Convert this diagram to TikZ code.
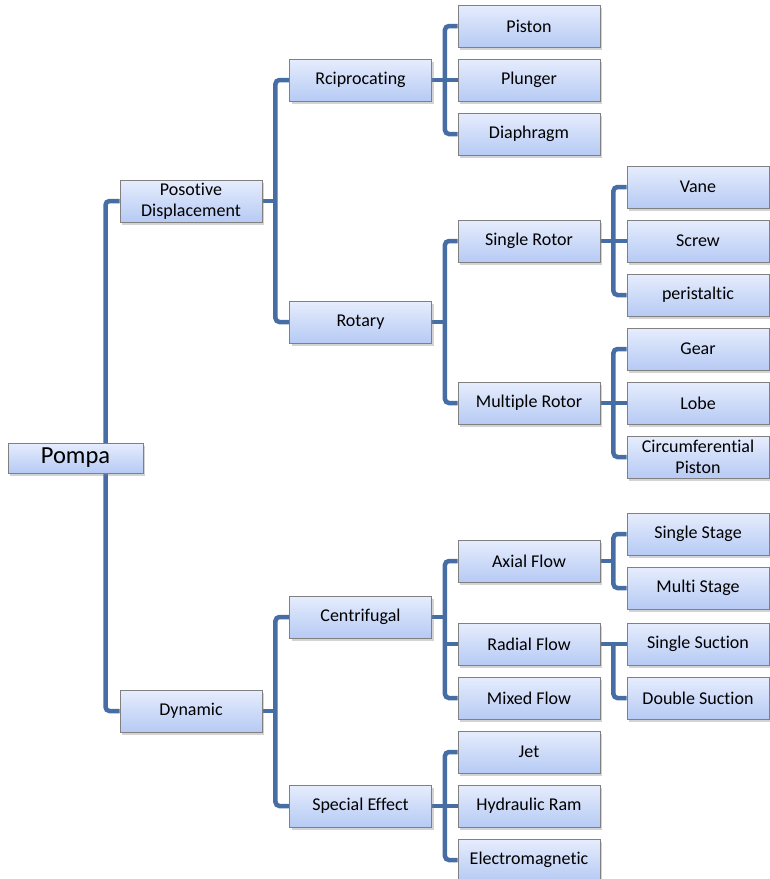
\documentclass[tikz,border=0pt]{standalone}
\usepackage{fontspec}
\setmainfont{Carlito}[Ligatures=NoCommon]
\usetikzlibrary{shadows,backgrounds,calc}
\definecolor{conncol}{RGB}{70,110,165}
\definecolor{boxtop}{RGB}{230,237,253}
\definecolor{boxbot}{RGB}{182,202,244}
\definecolor{boxline}{RGB}{128,128,128}
\tikzset{
  box/.style={draw=boxline, line width=0.9pt, top color=boxtop, bottom color=boxbot,
    minimum width=142pt, minimum height=42pt, inner sep=1pt, align=center,
    font=\fontsize{18}{21}\selectfont,
    drop shadow={shadow xshift=2pt, shadow yshift=-2.5pt, opacity=0.35}},
  rootbox/.style={box, minimum width=135pt, minimum height=30pt, font=\fontsize{24.5}{26}\selectfont},
  conn/.style={draw=conncol, line width=4.5pt, rounded corners=4pt}
}
\begin{document}
\begin{tikzpicture}[x=1pt,y=-1pt]
\useasboundingbox (0,0) rectangle (770,879);
% level 0
\node[rootbox] (pompa) at (75.5,458) {Pompa};
% level 1
\node[box] (pd) at (191,201) {Posotive\\Displacement};
\node[box] (dyn) at (191,711) {Dynamic};
% level 2
\node[box] (rec) at (360.5,80) {Rciprocating};
\node[box] (rot) at (360.5,322) {Rotary};
\node[box] (cen) at (360.5,617) {Centrifugal};
\node[box] (spe) at (360.5,806) {Special Effect};
% level 3
\node[box] (pis) at (529,26) {Piston};
\node[box] (plu) at (529,80) {Plunger};
\node[box] (dia) at (529,134) {Diaphragm};
\node[box] (sro) at (529,241) {Single Rotor};
\node[box] (mro) at (529,403) {Multiple Rotor};
\node[box] (axi) at (529,561) {Axial Flow};
\node[box] (rad) at (529,644) {Radial Flow};
\node[box] (mix) at (529,698) {Mixed Flow};
\node[box] (jet) at (529,752) {Jet};
\node[box] (hyd) at (529,806) {Hydraulic Ram};
\node[box] (ele) at (529,860) {Electromagnetic};
% level 4
\node[box] (van) at (698,187) {Vane};
\node[box] (scr) at (698,241) {Screw};
\node[box] (per) at (698,295) {peristaltic};
\node[box] (gea) at (698,349) {Gear};
\node[box] (lob) at (698,403) {Lobe};
\node[box] (cir) at (698,457) {Circumferential\\Piston};
\node[box] (sst) at (698,534) {Single Stage};
\node[box] (mst) at (698,588) {Multi Stage};
\node[box] (ssu) at (698,644) {Single Suction};
\node[box] (dsu) at (698,698) {Double Suction};
% bus coordinates
\coordinate (b-pompa) at ([xshift=30pt]pompa.center);
\foreach \p in {pd,dyn,rec,rot,cen,spe,sro,mro,axi,rad}
  \coordinate (b-\p) at ([xshift=13pt]\p.east);
\begin{scope}[on background layer]
  % root bus
  \draw[conn] (pd.west) -| (b-pompa) |- (dyn.west);
  % parent stubs
  \foreach \p in {pd,dyn,rec,rot,cen,spe,sro,mro,axi}
    \draw[conn] (\p.east) -- (b-\p);
  % buses: parent / first child / last child
  \foreach \p/\f/\l in {pd/rec/rot, dyn/cen/spe, rec/pis/dia, rot/sro/mro,
      cen/axi/mix, spe/jet/ele, sro/van/per, mro/gea/cir, axi/sst/mst}
    \draw[conn] (\f.west) -| (b-\p) |- (\l.west);
  % middle children
  \foreach \p/\c in {rec/plu, cen/rad, spe/hyd, sro/scr, mro/lob}
    \draw[conn] (\c.west -| b-\p) -- (\c.west);
  % radial flow: first child level with parent
  \draw[conn] (rad.east) -- (ssu.west);
  \draw[conn] (b-rad) |- (dsu.west);
\end{scope}
\end{tikzpicture}
\end{document}
